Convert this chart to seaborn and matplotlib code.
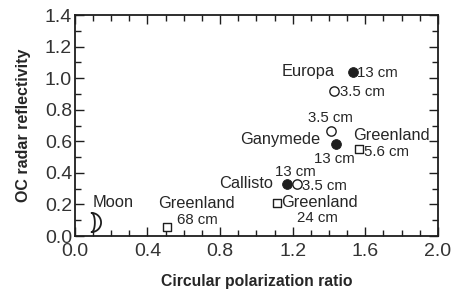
import numpy as np
import pandas as pd
import seaborn as sns
import matplotlib.pyplot as plt
from matplotlib.path import Path
from matplotlib.ticker import MultipleLocator

# measured points: circular polarization ratio vs OC radar reflectivity
names = ['Europa', 'Europa', 'Ganymede', 'Ganymede', 'Callisto', 'Callisto',
         'Greenland', 'Greenland', 'Greenland', 'Moon']
wavelength = ['13 cm', '3.5 cm', '3.5 cm', '13 cm', '13 cm', '3.5 cm',
              '5.6 cm', '24 cm', '68 cm', '']
cpr = [1.53, 1.43, 1.41, 1.44, 1.17, 1.225, 1.565, 1.115, 0.505, 0.09]
oc = [1.04, 0.92, 0.665, 0.585, 0.33, 0.33, 0.55, 0.21, 0.06, 0.09]
kind = ['filled', 'open', 'open', 'filled', 'filled', 'open',
        'square', 'square', 'square', 'moon']

df = pd.DataFrame({'name': names, 'wl': wavelength, 'cpr': cpr, 'oc': oc, 'kind': kind})

sns.set_style('ticks')
plt.rcParams['font.family'] = ['Liberation Sans', 'DejaVu Sans']

ink = '#1e1e1e'
txt = '#262626'

# crescent marker for the Moon
t = np.linspace(np.pi / 2, -np.pi / 2, 30)
outer = np.column_stack([np.cos(t), np.sin(t)])
inner = np.column_stack([0.35 * np.cos(t[::-1]), np.sin(t[::-1])])
moon = Path(np.vstack([outer, inner, outer[:1]]), closed=True)

fig = plt.figure(figsize=(4.51, 2.91), dpi=100)
ax = fig.add_axes([0.166, 0.189, 0.805, 0.759])

styles = {
    'filled': dict(marker='o', s=50, color=ink, edgecolor=ink),
    'open': dict(marker='o', s=45, color='white', edgecolor=ink, linewidth=1.0),
    'square': dict(marker='s', s=26, color='white', edgecolor=ink, linewidth=1.0),
    'moon': dict(marker=moon, s=190, color='white', edgecolor=ink, linewidth=1.3),
}
for k, st in styles.items():
    sub = df[df['kind'] == k]
    sns.scatterplot(data=sub, x='cpr', y='oc', ax=ax, legend=False, zorder=3, **st)

# labels
lab = dict(color=txt, fontsize=11.8, va='center')
sm = dict(color=txt, fontsize=10.8, va='center')
ax.text(1.43, 1.04, 'Europa', ha='right', **lab)
ax.text(1.555, 1.035, '13 cm', ha='left', **sm)
ax.text(1.46, 0.91, '3.5 cm', ha='left', **sm)
ax.text(1.41, 0.745, '3.5 cm', ha='center', **sm)
ax.text(1.35, 0.61, 'Ganymede', ha='right', **lab)
ax.text(1.43, 0.49, '13 cm', ha='center', **sm)
ax.text(1.535, 0.64, 'Greenland', ha='left', **lab)
ax.text(1.595, 0.53, '5.6 cm', ha='left', **sm)
ax.text(1.215, 0.405, '13 cm', ha='center', **sm)
ax.text(1.09, 0.33, 'Callisto', ha='right', **lab)
ax.text(1.25, 0.32, '3.5 cm', ha='left', **sm)
ax.text(1.135, 0.21, 'Greenland', ha='left', **lab)
ax.text(1.335, 0.115, '24 cm', ha='center', **sm)
ax.text(0.10, 0.215, 'Moon', ha='left', **lab)
ax.text(0.67, 0.205, 'Greenland', ha='center', **lab)
ax.text(0.675, 0.10, '68 cm', ha='center', **sm)

ax.set_xlim(0, 2.0)
ax.set_ylim(0, 1.4)
ax.xaxis.set_major_locator(MultipleLocator(0.4))
ax.xaxis.set_minor_locator(MultipleLocator(0.1))
ax.yaxis.set_major_locator(MultipleLocator(0.2))
ax.yaxis.set_minor_locator(MultipleLocator(0.1))
ax.xaxis.set_major_formatter(lambda v, p: f'{v:.1f}')
ax.yaxis.set_major_formatter(lambda v, p: f'{v:.1f}')
ax.tick_params(which='both', direction='in', top=True, right=True, color=ink,
               labelcolor='#333333', labelsize=14, width=1.0)
ax.tick_params(axis='y', pad=2)
ax.tick_params(axis='x', pad=5)
ax.tick_params(which='major', length=6.5)
ax.tick_params(which='minor', length=4.5)
for sp in ax.spines.values():
    sp.set_color(ink)
    sp.set_linewidth(1.3)

ax.set_xlabel('Circular polarization ratio', fontsize=11.3, fontweight='bold',
              color=txt, labelpad=10)
ax.set_ylabel('OC radar reflectivity', fontsize=11.5, fontweight='bold',
              color=txt, labelpad=10)

fig.savefig('out.png', dpi=100)
